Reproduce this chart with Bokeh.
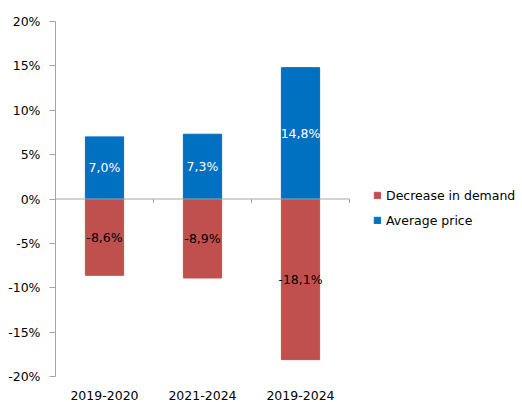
from bokeh.plotting import figure
from bokeh.models import Range1d, FixedTicker, Legend, LegendItem, ColumnDataSource
from bokeh.embed import file_html
from bokeh.resources import INLINE
from bokeh.core.properties import value

categories = ["2019-2020", "2021-2024", "2019-2024"]
demand = [-8.6, -8.9, -18.1]
price = [7.0, 7.3, 14.8]
y_ticks = [-20, -15, -10, -5, 0, 5, 10, 15, 20]
series_names = ["Decrease in demand", "Average price"]

RED = "#C0504D"
BLUE = "#0070C0"
GRAY = "#A6A6A6"
FONT = "DejaVu Sans"
FS = "12.5px"

n = len(categories)
xs = [i + 0.5 for i in range(n)]

def fmt(v):
    return ("%.1f%%" % v).replace(".", ",")

W, H, LEFT = 522, 402, 55
# frame extends to the right so the legend sits inside it (1 category = 98px)
p = figure(width=W, height=H, output_backend="svg", toolbar_location=None,
           x_range=Range1d(0, (W - LEFT) / 98), y_range=Range1d(-20, 20),
           min_border_left=LEFT, min_border_right=0, min_border_top=21, min_border_bottom=24)
p.outline_line_color = None
p.grid.visible = False
p.background_fill_color = "white"
p.border_fill_color = "white"

src_d = ColumnDataSource(dict(x=xs, top=demand, mid=[v / 2 for v in demand], lab=[fmt(v) for v in demand]))
src_p = ColumnDataSource(dict(x=xs, top=price, mid=[v / 2 for v in price], lab=[fmt(v) for v in price]))

r_d = p.vbar(x="x", top="top", bottom=0, width=0.39, source=src_d, fill_color=RED, line_color=RED)
r_p = p.vbar(x="x", top="top", bottom=0, width=0.39, source=src_p, fill_color=BLUE, line_color=BLUE)

# zero line with category boundary tick marks
p.segment(x0=[0], x1=[n], y0=[0], y1=[0], line_color=GRAY, line_width=1)
bx = list(range(1, n + 1))
p.segment(x0=bx, x1=bx, y0=[0] * n, y1=[-0.45] * n, line_color=GRAY, line_width=1)

p.text(x="x", y="mid", text="lab", source=src_p, text_color="white", text_align="center",
       text_baseline="middle", text_font=value(FONT), text_font_size=FS)
p.text(x="x", y="mid", text="lab", source=src_d, text_color="black", text_align="center",
       text_baseline="middle", text_font=value(FONT), text_font_size=FS)

# axes
xa = p.xaxis[0]
xa.ticker = FixedTicker(ticks=xs)
xa.major_label_overrides = {x: c for x, c in zip(xs, categories)}
xa.axis_line_color = None
xa.major_tick_line_color = None
xa.minor_tick_line_color = None
xa.major_tick_out = 0
xa.major_tick_in = 0
xa.major_label_standoff = 14
xa.major_label_text_line_height = 0.6
xa.major_label_text_font = FONT
xa.major_label_text_font_size = FS
xa.major_label_text_font_style = "normal"
xa.major_label_text_color = "black"

ya = p.yaxis[0]
ya.ticker = FixedTicker(ticks=y_ticks)
ya.major_label_overrides = {t: "%d%%" % t for t in y_ticks}
ya.axis_line_color = GRAY
ya.major_tick_line_color = GRAY
ya.major_tick_out = 6
ya.major_tick_in = 0
ya.minor_tick_line_color = None
ya.major_label_standoff = 9
ya.major_label_text_font = FONT
ya.major_label_text_font_size = FS
ya.major_label_text_font_style = "normal"
ya.major_label_text_color = "black"

legend = Legend(items=[LegendItem(label=series_names[0], renderers=[r_d]),
                       LegendItem(label=series_names[1], renderers=[r_p])],
                location=(318, 146), orientation="vertical",
                glyph_width=8, glyph_height=8, label_standoff=5, spacing=5,
                label_height=20, padding=0, margin=0, border_line_color=None,
                background_fill_alpha=0,
                label_text_font=FONT, label_text_font_size=FS, label_text_color="black")
p.add_layout(legend, "center")

open("out.html", "w").write(file_html(p, INLINE))
